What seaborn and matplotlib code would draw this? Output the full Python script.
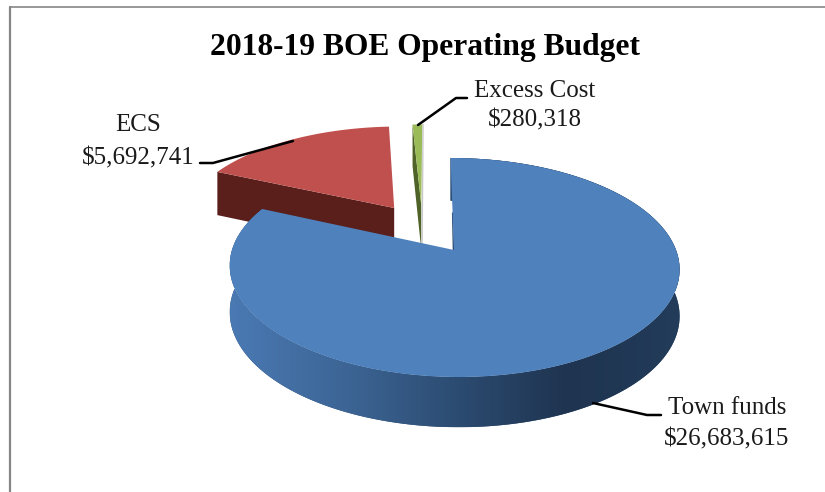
import numpy as np
import matplotlib
matplotlib.use('Agg')
import matplotlib.pyplot as plt
import seaborn as sns

title = '2018-19 BOE Operating Budget'
labels = ['Town funds', 'ECS', 'Excess Cost']
values = [26683615, 5692741, 280318]
value_labels = ['$26,683,615', '$5,692,741', '$280,318']

sns.set_theme(style='white')
plt.rcParams['font.family'] = ['Liberation Serif', 'DejaVu Serif']

top_colors = ['#4f81bd', '#bf504d', '#9bbb59']
side_colors = [None, '#5a1f1b', '#4f6228']
rim_cmap = sns.blend_palette(['#4a79b3', '#3d6696', '#2c4c72', '#1f3450', '#223c5a'], as_cmap=True)

# sideways shift of each slice on the pie plane (exploded slices)
explode = [(0, 0), (-0.28, 0.42), (-0.15, 0.45)]

# pie plane -> pixel position, a small perspective so the back looks smaller
X0, Y0 = 454, 250
A, B, K = 222, 106.7, 0.16
SKEW = -4
DEPTH = 46


def project(x, y, drop=0):
    w = 1 + K * y
    return X0 + A * x / w + SKEW * y / w, Y0 - B * y / w + drop / np.sqrt(w)


def slice_edges(start, end, shift, drop=0):
    t = np.radians(np.linspace(start, end, 200))
    return project(np.sin(t) + shift[0], np.cos(t) + shift[1], drop)


angles = np.concatenate([[0], np.cumsum(values) / np.sum(values) * 360])

fig = plt.figure(figsize=(8.25, 4.92), dpi=100)
ax = fig.add_axes([0, 0, 1, 1])
ax.set_xlim(0, 825)
ax.set_ylim(492, 0)
ax.axis('off')

# chart frame, only left and top show
ax.plot([10, 10], [492, 6.5], color='#868686', lw=1.6, zorder=1)
ax.plot([10, 825], [6.5, 6.5], color='#868686', lw=1.2, zorder=1)

# draw back to front: green, red, blue
for i in [2, 1, 0]:
    z = 10 + (2 - i) * 5
    start, end = angles[i], angles[i + 1]
    sx, sy = slice_edges(start, end, explode[i])
    ax0, ay0 = project(*explode[i])

    if i == 0:
        bx, by = slice_edges(start, end, explode[i], DEPTH)
        rim = ax.fill(np.r_[sx, bx[::-1]], np.r_[sy, by[::-1]], color='#2c4c72', lw=0, zorder=z)[0]
        grad = np.linspace(0, 1, 256).reshape(1, -1)
        im = ax.imshow(grad, extent=[sx.min(), sx.max(), by.max(), sy.min()], cmap=rim_cmap,
                       aspect='auto', zorder=z + 1)
        im.set_clip_path(rim)
        ax.set_xlim(0, 825)
        ax.set_ylim(492, 0)
    else:
        # cut face on the left side of the slice
        bx0, by0 = project(*explode[i], DEPTH)
        bx1, by1 = project(np.sin(np.radians(start)) + explode[i][0],
                           np.cos(np.radians(start)) + explode[i][1], DEPTH)
        ax.fill([ax0, sx[0], bx1, bx0], [ay0, sy[0], by1, by0], color=side_colors[i], lw=0, zorder=z)

    if i == 2:
        # thin grey cut face on the right of the green slice
        ax.plot([sx[-1] + 0.8, ax0 + 0.8], [sy[-1], by0], color='#c9c9c9', lw=1, zorder=z)

    ax.fill(np.r_[ax0, sx], np.r_[ay0, sy], color=top_colors[i], lw=0, zorder=z + 2)

# short dark edge of the blue slice in the notch
ax.plot([X0 - 1.4, X0 - 0.6], [213, 250], color='#2c4c72', lw=1, zorder=21)

# leader lines
ax.plot([200, 213, 293], [163, 163, 141], color='black', lw=1.8, zorder=30)
ax.plot([467, 456, 418], [98, 98, 125], color='black', lw=1.8, zorder=30)
ax.plot([593, 647, 661], [403, 415, 415], color='black', lw=1.8, zorder=30)

ax.text(425, 47, title, ha='center', va='center', fontsize=22.7, fontweight='bold', color='black')

label_pos = [(727, 408, 439), (138, 125, 158), (535, 91, 120)]
for name, val, (x, y1, y2) in zip(labels, value_labels, label_pos):
    ax.text(x, y1, name, ha='center', va='center', fontsize=18, color='#1a1a1a')
    ax.text(x, y2, val, ha='center', va='center', fontsize=18, color='#1a1a1a')

fig.savefig('out.png', dpi=100)
